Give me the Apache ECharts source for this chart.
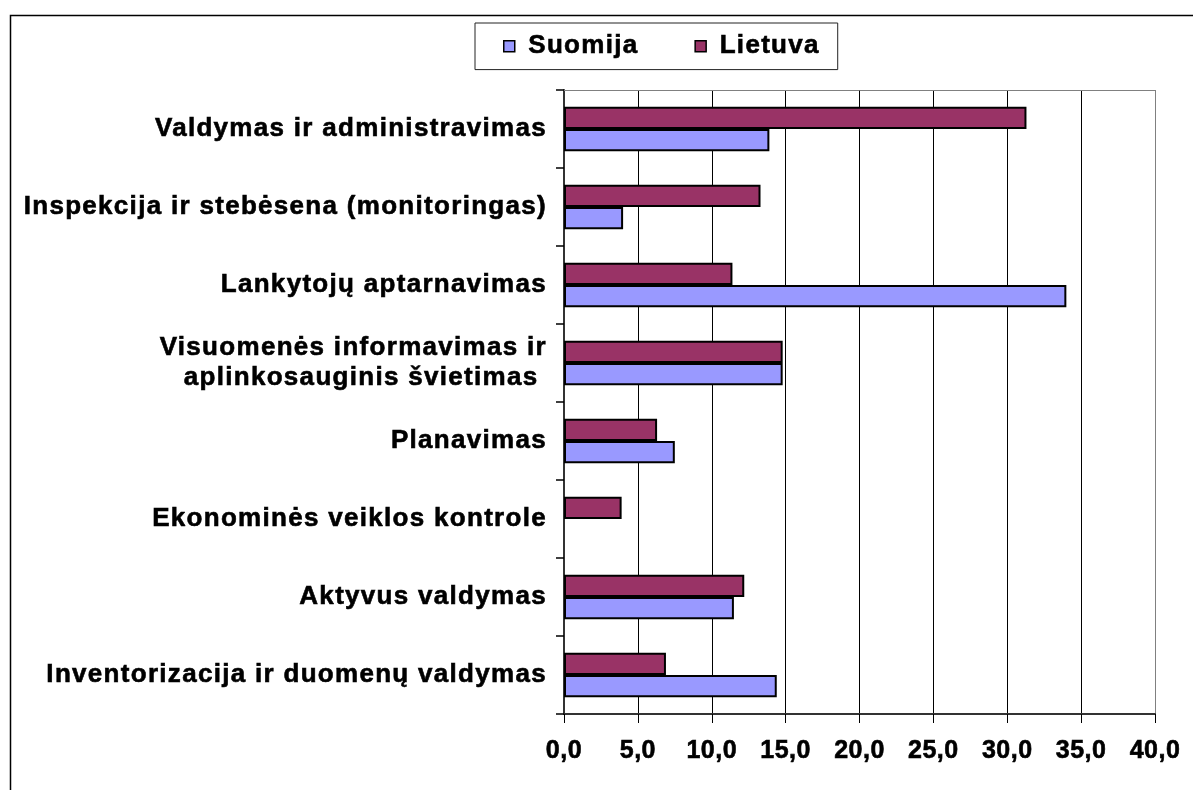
<!DOCTYPE html>
<html>
<head>
<meta charset="utf-8">
<script src="https://cdn.jsdelivr.net/npm/echarts@6/dist/echarts.min.js"></script>
<style>
html,body{margin:0;padding:0;background:#fff;}
#chart{width:1193px;height:790px;}
</style>
</head>
<body>
<div id="chart"></div>
<script>
// ---- data ----
const categories = [
  'Valdymas ir administravimas',
  'Inspekcija ir stebėsena (monitoringas)',
  'Lankytojų aptarnavimas',
  'Visuomenės informavimas ir\naplinkosauginis švietimas ',
  'Planavimas',
  'Ekonominės veiklos kontrole',
  'Aktyvus valdymas',
  'Inventorizacija ir duomenų valdymas'
];
const seriesNames = ['Suomija', 'Lietuva'];
const suomija = [13.9, 4.0, 34.0, 14.8, 7.5, null, 11.5, 14.4];
const lietuva = [31.3, 13.3, 11.4, 14.8, 6.3, 3.9, 12.2, 6.9];
const xMin = 0, xMax = 40, xStep = 5;

// letter spacing emulation for the spaced-out bold text of the original
(function(){
  function setSpacing(ctx){
    const f = ctx.font || '';
    try {
      if (f.indexOf('Arial, "Liberation Sans"') >= 0 || f.indexOf("Arial, 'Liberation Sans'") >= 0) ctx.letterSpacing = '0.5px';
      else if (f.indexOf('Liberation Sans') >= 0) ctx.letterSpacing = '1.3px';
      else ctx.letterSpacing = '0px';
    } catch(e) {}
  }
  const of = CanvasRenderingContext2D.prototype.fillText;
  const os = CanvasRenderingContext2D.prototype.strokeText;
  CanvasRenderingContext2D.prototype.fillText = function(t, x, y, m){
    setSpacing(this);
    return m === undefined ? of.call(this, t, x, y) : of.call(this, t, x, y, m);
  };
  CanvasRenderingContext2D.prototype.strokeText = function(t, x, y, m){
    setSpacing(this);
    return m === undefined ? os.call(this, t, x, y) : os.call(this, t, x, y, m);
  };
})();

const FONT = '"Liberation Sans", Arial, sans-serif';
const TICKFONT = 'Arial, "Liberation Sans", sans-serif';
const chart = echarts.init(document.getElementById('chart'), null, {renderer: 'canvas'});
const gridColors = [];
for (let v = xMin; v <= xMax; v += xStep) gridColors.push(v === xMax ? '#808080' : '#000');
const heavy = {textBorderColor: '#000', textBorderWidth: 0.6};

chart.setOption({
  animation: false,
  backgroundColor: '#fff',
  graphic: [{
    type: 'rect', left: 8, top: 13, z: -10,
    shape: {width: 1300, height: 900},
    style: {fill: 'none', stroke: '#000', lineWidth: 1.5}
  }],
  legend: {
    data: seriesNames,
    left: 475, top: 23,
    padding: [10, 28, 10, 28],
    itemGap: 66,
    itemWidth: 11, itemHeight: 11,
    icon: 'rect',
    borderColor: '#222', borderWidth: 1,
    itemStyle: {borderColor: '#000', borderWidth: 1.5},
    formatter: n => ' ' + n,
    textStyle: Object.assign({fontFamily: FONT, fontWeight: 'bold', fontSize: 26, color: '#000', lineHeight: 26}, heavy)
  },
  grid: {left: 564, right: 38, top: 90, bottom: 76, containLabel: false},
  xAxis: [{
    type: 'value', min: xMin, max: xMax, interval: xStep, position: 'bottom',
    axisLine: {show: true, lineStyle: {color: '#333', width: 2}},
    axisTick: {show: true, length: 9, lineStyle: {color: '#000', width: 1}},
    axisLabel: Object.assign({
      margin: 25, color: '#000', fontFamily: TICKFONT, fontWeight: 'bold', fontSize: 25,
      formatter: v => v.toFixed(1).replace('.', ',')
    }, heavy),
    splitLine: {show: true, lineStyle: {color: gridColors, width: 1}}
  }, {
    type: 'value', min: xMin, max: xMax, interval: xStep, position: 'top',
    axisLine: {show: true, lineStyle: {color: '#808080', width: 1}},
    axisTick: {show: false}, axisLabel: {show: false}, splitLine: {show: false}
  }],
  yAxis: {
    type: 'category', data: categories, inverse: true,
    axisLine: {show: true, lineStyle: {color: '#333', width: 2}},
    axisTick: {show: true, length: 8, inside: false, lineStyle: {color: '#000', width: 1.5}},
    axisLabel: Object.assign({
      margin: 17, color: '#000', fontFamily: FONT, fontWeight: 'bold', fontSize: 26,
      lineHeight: 30, align: 'right'
    }, heavy),
    splitLine: {show: false}
  },
  series: [{
    name: seriesNames[1], type: 'bar', data: lietuva,
    barGap: '0%', barCategoryGap: '43%',
    itemStyle: {color: '#993366', borderColor: '#000', borderWidth: 2}
  }, {
    name: seriesNames[0], type: 'bar', data: suomija,
    barGap: '0%', barCategoryGap: '43%',
    itemStyle: {color: '#9999FF', borderColor: '#000', borderWidth: 2}
  }]
});
</script>
</body>
</html>
